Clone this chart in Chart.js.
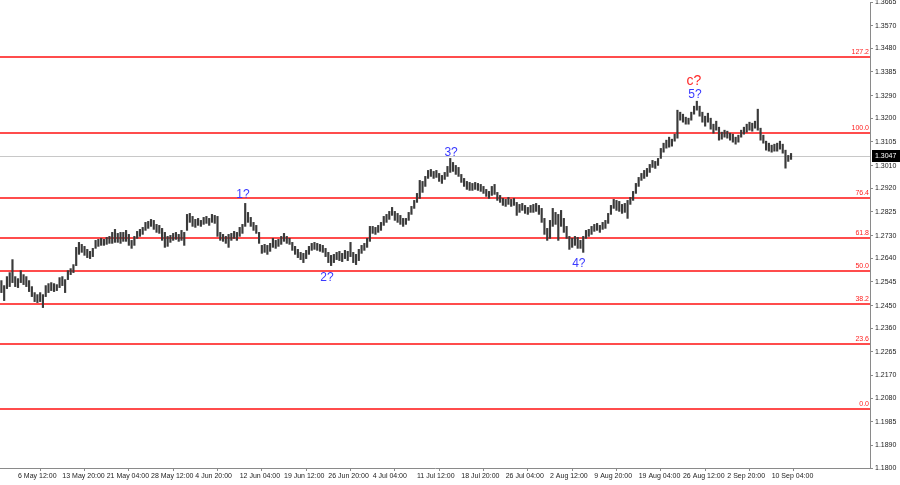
<!DOCTYPE html>
<html><head><meta charset="utf-8">
<script src="https://cdn.jsdelivr.net/npm/chart.js@4.4.1/dist/chart.umd.min.js"></script>
<style>html,body{margin:0;padding:0;background:#fff;overflow:hidden}#wrap{width:900px;height:485px}</style>
</head><body><div id="wrap"><canvas id="c" width="900" height="485"></canvas></div>
<script>
const highs = [
1.2550,1.2530,1.2566,1.2582,1.2634,1.2566,1.2558,1.2590,1.2574,1.2566,
1.2550,1.2526,1.2502,1.2494,1.2502,1.2494,1.2530,1.2538,1.2542,1.2538,
1.2534,1.2562,1.2566,1.2554,1.2590,1.2598,1.2614,1.2683,1.2703,1.2695,
1.2687,1.2675,1.2667,1.2679,1.2711,1.2715,1.2719,1.2715,1.2723,1.2727,
1.2743,1.2755,1.2739,1.2743,1.2743,1.2751,1.2735,1.2711,1.2727,1.2747,
1.2755,1.2763,1.2783,1.2787,1.2795,1.2791,1.2775,1.2771,1.2759,1.2743,
1.2727,1.2731,1.2739,1.2743,1.2735,1.2751,1.2743,1.2815,1.2819,1.2807,
1.2795,1.2799,1.2791,1.2803,1.2807,1.2799,1.2815,1.2811,1.2807,1.2743,
1.2735,1.2727,1.2735,1.2739,1.2747,1.2743,1.2763,1.2775,1.2859,1.2823,
1.2803,1.2783,1.2771,1.2743,1.2691,1.2695,1.2691,1.2699,1.2719,1.2711,
1.2715,1.2727,1.2739,1.2727,1.2719,1.2703,1.2687,1.2675,1.2663,1.2659,
1.2671,1.2687,1.2699,1.2703,1.2699,1.2695,1.2691,1.2679,1.2663,1.2651,
1.2655,1.2663,1.2667,1.2659,1.2671,1.2667,1.2703,1.2663,1.2655,1.2675,
1.2691,1.2699,1.2719,1.2767,1.2767,1.2763,1.2771,1.2783,1.2807,1.2815,
1.2827,1.2843,1.2827,1.2819,1.2811,1.2799,1.2799,1.2823,1.2847,1.2871,
1.2899,1.2951,1.2947,1.2967,1.2991,1.2995,1.2987,1.2991,1.2979,1.2971,
1.2983,1.3007,1.3039,1.3023,1.3011,1.3003,1.2975,1.2959,1.2947,1.2943,
1.2939,1.2943,1.2939,1.2935,1.2927,1.2915,1.2907,1.2927,1.2935,1.2903,
1.2891,1.2879,1.2875,1.2883,1.2875,1.2879,1.2863,1.2855,1.2859,1.2851,
1.2843,1.2851,1.2855,1.2859,1.2851,1.2839,1.2799,1.2759,1.2791,1.2839,
1.2823,1.2815,1.2831,1.2799,1.2767,1.2727,1.2719,1.2727,1.2723,1.2711,
1.2727,1.2751,1.2755,1.2767,1.2775,1.2779,1.2771,1.2783,1.2791,1.2819,
1.2851,1.2875,1.2871,1.2867,1.2855,1.2859,1.2871,1.2883,1.2907,1.2939,
1.2963,1.2979,1.2991,1.2999,1.3015,1.3031,1.3027,1.3039,1.3079,1.3100,
1.3112,1.3124,1.3116,1.3136,1.3232,1.3224,1.3216,1.3204,1.3200,1.3224,
1.3248,1.3268,1.3248,1.3224,1.3208,1.3220,1.3200,1.3176,1.3188,1.3164,
1.3144,1.3152,1.3148,1.3140,1.3136,1.3124,1.3132,1.3152,1.3164,1.3176,
1.3184,1.3180,1.3188,1.3236,1.3160,1.3132,1.3108,1.3100,1.3092,1.3096,
1.3100,1.3108,1.3096,1.3072,1.3051,1.3059];
const lows = [
1.2502,1.2470,1.2518,1.2526,1.2542,1.2526,1.2522,1.2542,1.2534,1.2526,
1.2506,1.2486,1.2466,1.2462,1.2466,1.2442,1.2486,1.2502,1.2510,1.2506,
1.2510,1.2522,1.2530,1.2502,1.2554,1.2574,1.2582,1.2610,1.2655,1.2663,
1.2651,1.2642,1.2638,1.2646,1.2679,1.2687,1.2691,1.2691,1.2695,1.2699,
1.2699,1.2703,1.2703,1.2699,1.2707,1.2707,1.2691,1.2679,1.2691,1.2719,
1.2727,1.2735,1.2751,1.2759,1.2767,1.2755,1.2743,1.2739,1.2711,1.2683,
1.2687,1.2703,1.2711,1.2715,1.2707,1.2711,1.2691,1.2751,1.2783,1.2767,
1.2763,1.2771,1.2767,1.2775,1.2779,1.2771,1.2783,1.2779,1.2727,1.2711,
1.2707,1.2699,1.2683,1.2711,1.2719,1.2711,1.2727,1.2739,1.2767,1.2783,
1.2767,1.2751,1.2739,1.2699,1.2659,1.2663,1.2655,1.2667,1.2683,1.2679,
1.2687,1.2695,1.2707,1.2699,1.2695,1.2671,1.2655,1.2642,1.2634,1.2622,
1.2638,1.2655,1.2671,1.2675,1.2671,1.2667,1.2663,1.2646,1.2622,1.2610,
1.2622,1.2634,1.2630,1.2626,1.2638,1.2630,1.2646,1.2622,1.2614,1.2630,
1.2659,1.2671,1.2683,1.2707,1.2739,1.2735,1.2743,1.2751,1.2771,1.2783,
1.2795,1.2811,1.2791,1.2783,1.2775,1.2767,1.2775,1.2791,1.2815,1.2839,
1.2863,1.2879,1.2903,1.2927,1.2959,1.2967,1.2959,1.2963,1.2947,1.2939,
1.2955,1.2967,1.2983,1.2987,1.2975,1.2967,1.2943,1.2927,1.2915,1.2911,
1.2911,1.2915,1.2911,1.2907,1.2899,1.2887,1.2879,1.2891,1.2895,1.2871,
1.2863,1.2851,1.2847,1.2855,1.2847,1.2851,1.2811,1.2823,1.2831,1.2819,
1.2815,1.2823,1.2823,1.2827,1.2815,1.2783,1.2735,1.2711,1.2719,1.2767,
1.2775,1.2711,1.2767,1.2743,1.2719,1.2675,1.2683,1.2691,1.2679,1.2679,
1.2663,1.2719,1.2727,1.2735,1.2747,1.2751,1.2743,1.2755,1.2759,1.2779,
1.2815,1.2839,1.2831,1.2827,1.2819,1.2823,1.2799,1.2855,1.2871,1.2899,
1.2927,1.2951,1.2959,1.2967,1.2983,1.3003,1.2999,1.3011,1.3039,1.3064,
1.3080,1.3084,1.3088,1.3108,1.3120,1.3192,1.3184,1.3176,1.3176,1.3192,
1.3216,1.3232,1.3208,1.3184,1.3168,1.3184,1.3156,1.3140,1.3152,1.3112,
1.3116,1.3124,1.3120,1.3112,1.3104,1.3096,1.3104,1.3124,1.3136,1.3144,
1.3152,1.3148,1.3160,1.3152,1.3112,1.3100,1.3072,1.3068,1.3064,1.3068,
1.3068,1.3076,1.3060,1.3000,1.3027,1.3035];
const slotCount = 314; // time slots on the axis (data + empty right margin)
const xTickSlots = [6,22,38,54,70,86,102,118,134,150,166,182,198,214,230,246,262,278];
const xTickLabels = ['6 May 12:00','13 May 20:00','21 May 04:00','28 May 12:00','4 Jun 20:00','12 Jun 04:00','19 Jun 12:00','26 Jun 20:00','4 Jul 04:00','11 Jul 12:00','18 Jul 20:00','26 Jul 04:00','2 Aug 12:00','9 Aug 20:00','19 Aug 04:00','26 Aug 12:00','2 Sep 20:00','10 Sep 04:00'];
const yTicks = [1.1800,1.1890,1.1985,1.2080,1.2170,1.2265,1.2360,1.2450,1.2545,1.2640,1.2730,1.2825,1.2920,1.3010,1.3105,1.3200,1.3290,1.3385,1.3480,1.3570,1.3665];
const fibNames = ['0.0','23.6','38.2','50.0','61.8','76.4','100.0','127.2'];
const fibPrices = [1.2037,1.2296,1.2456,1.2588,1.2720,1.2881,1.3142,1.3443];
const lastPrice = 1.3047;
const waveTexts = ['1?','2?','3?','4?','5?','c?'];
const waveSlots = [87.2,117.5,162.3,208.4,250.3,249.9];
const wavePrices = [1.2895,1.2562,1.3063,1.2618,1.3296,1.3348];
const waveColors = ['#3a3aff','#3a3aff','#3a3aff','#3a3aff','#3a3aff','#ff2a2a'];
const waveSizes = [12,12,12,12,12,14];

const slotLabels = Array.from({length: slotCount}, (_, i) => String(i));
const ranges = lows.map((l, i) => [l, highs[i]]);

const FONT = '"Liberation Sans", Arial, sans-serif';

const overlay = {
  id: 'overlay',
  beforeDatasetsDraw(chart) {
    const {ctx, chartArea: a, scales: {y}} = chart;
    ctx.save();
    ctx.lineWidth = 1;
    const yl = Math.round(y.getPixelForValue(lastPrice)) + 0.5;
    ctx.strokeStyle = '#c8c8c8';
    ctx.beginPath(); ctx.moveTo(a.left, yl); ctx.lineTo(a.right, yl); ctx.stroke();
    ctx.strokeStyle = '#ff1010';
    ctx.fillStyle = '#ff2020';
    ctx.font = '7px ' + FONT;
    ctx.textAlign = 'right';
    ctx.textBaseline = 'bottom';
    fibPrices.forEach((p, i) => {
      const yy = Math.round(y.getPixelForValue(p));
      ctx.lineWidth = 1.4;
      ctx.beginPath(); ctx.moveTo(a.left, yy); ctx.lineTo(a.right, yy); ctx.stroke();
      ctx.fillText(fibNames[i], a.right - 1, yy - 1);
    });
    ctx.restore();
  },
  afterDraw(chart) {
    const {ctx, chartArea: a, scales: {x, y}} = chart;
    ctx.save();
    ctx.textAlign = 'center';
    ctx.textBaseline = 'middle';
    waveTexts.forEach((t, i) => {
      ctx.font = waveSizes[i] + 'px ' + FONT;
      ctx.fillStyle = waveColors[i];
      ctx.fillText(t, x.getPixelForValue(waveSlots[i]), y.getPixelForValue(wavePrices[i]));
    });
    const yl = Math.round(y.getPixelForValue(lastPrice));
    ctx.fillStyle = '#000';
    ctx.fillRect(a.right + 2, yl - 6, 28, 12);
    ctx.fillStyle = '#fff';
    ctx.font = '7px ' + FONT;
    ctx.textAlign = 'left';
    ctx.fillText(lastPrice.toFixed(4), a.right + 5, yl + 0.5);
    ctx.restore();
  }
};

new Chart(document.getElementById('c'), {
  type: 'bar',
  data: {
    labels: slotLabels,
    datasets: [{
      data: ranges,
      backgroundColor: '#3a3a3a',
      borderWidth: 0,
      barThickness: 1.5,
      grouped: false
    }]
  },
  options: {
    responsive: false,
    animation: false,
    layout: {padding: 0},
    plugins: {legend: {display: false}, tooltip: {enabled: false}},
    scales: {
      x: {
        type: 'category',
        offset: true,
        grid: {drawOnChartArea: false, drawTicks: true, tickLength: 3, color: '#8a8a8a'},
        border: {display: true, color: '#8a8a8a'},
        afterBuildTicks(axis) { axis.ticks = xTickSlots.map(v => ({value: v})); },
        afterFit(axis) { axis.height = 17; axis.paddingLeft = 0; axis.paddingRight = 0; },
        ticks: {
          autoSkip: false, maxRotation: 0, minRotation: 0, align: 'start', padding: 1,
          color: '#222', font: {size: 7, family: FONT},
          callback(v) { const k = xTickSlots.indexOf(v); return k >= 0 ? xTickLabels[k] : ''; }
        }
      },
      y: {
        position: 'right',
        min: 1.1800,
        max: 1.3665,
        grid: {drawOnChartArea: false, drawTicks: true, tickLength: 3, color: '#8a8a8a'},
        border: {display: true, color: '#8a8a8a'},
        afterBuildTicks(axis) { axis.ticks = yTicks.map(v => ({value: v})); },
        afterFit(axis) { axis.width = 30; axis.paddingTop = 2; axis.paddingBottom = 0; },
        ticks: {
          padding: 2, color: '#222', font: {size: 7, family: FONT, lineHeight: 1},
          callback(v) { return Number(v).toFixed(4); }
        }
      }
    }
  },
  plugins: [overlay]
});
</script>
</body></html>
